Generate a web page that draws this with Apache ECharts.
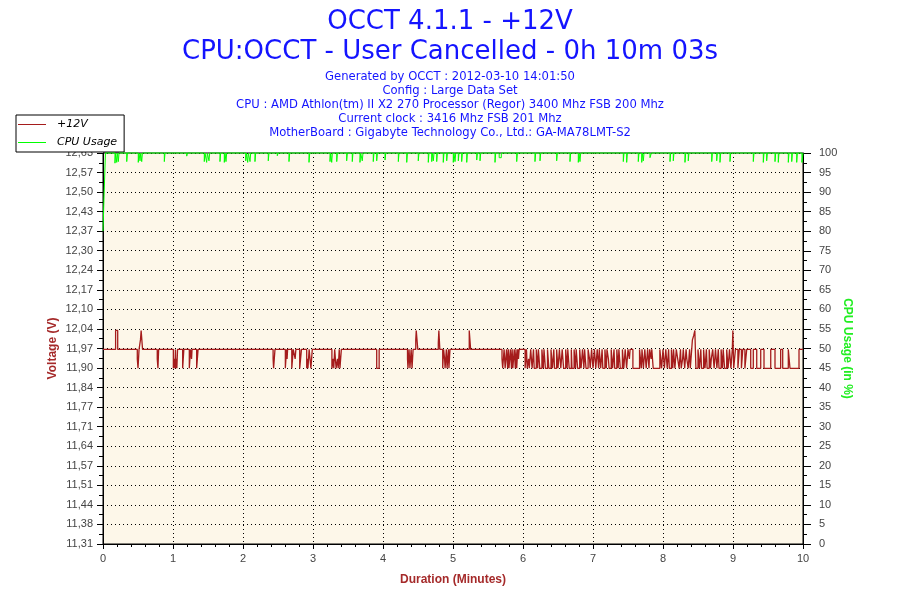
<!DOCTYPE html>
<html><head><meta charset="utf-8">
<script src="https://cdn.jsdelivr.net/npm/echarts@6/dist/echarts.min.js"></script>
<style>html,body{margin:0;padding:0;background:#fff}#c{width:900px;height:600px}</style>
</head><body><div id="c"></div>
<script>
const titleLines = ['OCCT 4.1.1 - +12V', 'CPU:OCCT - User Cancelled - 0h 10m 03s'];
const infoLines = [
  'Generated by OCCT : 2012-03-10 14:01:50',
  'Config : Large Data Set',
  'CPU : AMD Athlon(tm) II X2 270 Processor (Regor) 3400 Mhz FSB 200 Mhz',
  'Current clock : 3416 Mhz FSB 201 Mhz',
  'MotherBoard : Gigabyte Technology Co., Ltd.: GA-MA78LMT-S2'
];
const seriesNames = ['+12V', 'CPU Usage'];
const voltTickLabels = ['11,31','11,38','11,44','11,51','11,57','11,64','11,71','11,77','11,84','11,90','11,97','12,04','12,10','12,17','12,24','12,30','12,37','12,43','12,50','12,57','12,63'];
const voltAxisRange = [11.31, 12.632];
const voltAxisStep = 0.0661;
const cpuAxisRange = [0, 100];
const durationRange = [0, 10];

// +12V readings, [minute, volts] change points
const voltage = [
[0,11.968],[0.18,12.032],[0.21,11.968],[0.49,11.936],[0.5,11.904],[0.515,11.968],[0.535,12.0],[0.545,12.032],[0.565,11.968],[0.775,11.936],[0.785,11.904],[0.795,11.968],
[1.005,11.904],[1.02,11.936],[1.027,11.904],[1.035,11.968],[1.04,11.904],[1.05,11.936],[1.055,11.904],[1.065,11.968],[1.138,11.904],[1.155,11.968],[1.233,11.904],[1.25,11.968],[1.265,11.936],[1.272,11.968],[1.338,11.904],[1.358,11.968],
[2.43,11.936],[2.437,11.904],[2.457,11.968],[2.605,11.904],[2.622,11.968],[2.63,11.936],[2.637,11.968],[2.697,11.904],[2.718,11.968],[2.745,11.936],[2.755,11.968],[2.81,11.904],[2.835,11.968],[2.91,11.904],[2.92,11.936],[2.928,11.904],[2.945,11.968],[2.97,11.904],[2.99,11.968],
[3.27,11.904],[3.29,11.936],[3.297,11.904],[3.31,11.968],[3.33,11.904],[3.35,11.936],[3.36,11.904],[3.375,11.968],[3.385,11.904],[3.405,11.968],[3.91,11.904],[3.945,11.968],
[4.35,11.936],[4.357,11.904],[4.372,11.968],[4.385,11.904],[4.402,11.968],[4.415,11.904],[4.43,11.968],[4.468,12.0],[4.475,12.032],[4.497,11.968],[4.79,11.99],[4.798,12.032],[4.812,11.968],[4.853,11.904],[4.866,11.968],[4.88,11.936],[4.887,11.904],[4.905,11.968],[4.915,11.904],[4.935,11.968],[4.942,11.904],[4.957,11.968],
[5.232,12.032],[5.252,11.968],[5.7,11.936],[5.71,11.904],[5.73,11.968],[5.745,11.904],[5.765,11.968],[5.78,11.904],[5.79,11.968],[5.8,11.904],[5.82,11.968],[5.835,11.904],[5.845,11.968],[5.855,11.904],[5.875,11.968],[5.89,11.904],[5.9,11.968],[5.91,11.904],[5.925,11.968],[5.935,11.936],[5.945,11.968],
[6.03,11.904],[6.05,11.968],[6.06,11.904],[6.08,11.936],[6.09,11.904],[6.11,11.968],[6.13,11.904],[6.15,11.968],[6.16,11.904],[6.19,11.968],[6.21,11.904],[6.22,11.968],[6.24,11.904],[6.27,11.968],[6.29,11.904],[6.3,11.968],[6.32,11.904],[6.35,11.968],[6.36,11.936],[6.37,11.904],[6.4,11.968],[6.42,11.904],[6.44,11.968],[6.45,11.904],[6.48,11.968],[6.5,11.904],[6.52,11.968],[6.54,11.904],[6.55,11.936],[6.56,11.968],[6.58,11.904],[6.61,11.968],[6.63,11.904],[6.64,11.968],[6.66,11.904],[6.69,11.968],[6.7,11.904],[6.73,11.968],[6.75,11.904],[6.76,11.968],[6.78,11.904],[6.81,11.968],[6.83,11.904],[6.85,11.968],[6.87,11.904],[6.88,11.968],[6.9,11.904],[6.93,11.968],[6.95,11.936],[6.96,11.904],[6.98,11.968],
[7.0,11.904],[7.02,11.968],[7.04,11.904],[7.06,11.968],[7.08,11.904],[7.09,11.968],[7.11,11.904],[7.13,11.968],[7.14,11.904],[7.17,11.968],[7.19,11.904],[7.2,11.968],[7.22,11.936],[7.23,11.904],[7.26,11.968],[7.28,11.904],[7.3,11.968],[7.31,11.904],[7.34,11.968],[7.36,11.904],[7.37,11.968],[7.39,11.904],[7.42,11.968],[7.44,11.904],[7.46,11.968],[7.48,11.904],[7.5,11.968],[7.52,11.936],[7.53,11.968],[7.57,11.904],[7.665,11.968],[7.69,11.904],[7.7,11.968],[7.72,11.904],[7.74,11.968],[7.76,11.904],[7.78,11.968],[7.8,11.904],[7.81,11.968],[7.83,11.936],[7.84,11.968],[7.86,11.904],[7.955,11.968],[7.98,11.904],
[8.0,11.968],[8.02,11.904],[8.04,11.968],[8.06,11.904],[8.08,11.968],[8.09,11.904],[8.12,11.968],[8.14,11.904],[8.15,11.968],[8.17,11.904],[8.19,11.968],[8.21,11.936],[8.23,11.904],[8.25,11.968],[8.26,11.904],[8.28,11.936],[8.29,11.968],[8.31,11.904],[8.33,11.968],[8.34,11.936],[8.36,11.904],[8.38,11.968],[8.39,11.904],[8.41,11.968],[8.42,12.0],[8.44,12.016],[8.455,12.032],[8.47,11.904],[8.5,11.968],[8.52,11.904],[8.54,11.968],[8.55,11.904],[8.58,11.968],[8.6,11.904],[8.62,11.968],[8.63,11.904],[8.66,11.968],[8.68,11.904],[8.69,11.936],[8.71,11.968],[8.73,11.904],[8.75,11.968],[8.77,11.904],[8.79,11.968],[8.8,11.904],[8.83,11.968],[8.85,11.904],[8.86,11.968],[8.88,11.904],[8.91,11.968],[8.93,11.904],[8.95,11.968],[8.97,11.904],[8.99,11.968],
[8.998,12.032],[9.01,11.904],[9.035,11.968],[9.07,11.904],[9.09,11.968],[9.12,11.904],[9.14,11.968],[9.17,11.904],[9.196,11.968],[9.253,11.904],[9.29,11.968],[9.339,11.904],[9.396,11.968],[9.443,11.904],[9.539,11.968],[9.6,11.904],[9.681,11.968],[9.71,11.904],[9.79,11.968],[9.814,11.904],[9.943,11.968],[10,11.968]
];

// CPU usage, [minute, percent] change points
const cpuUsage = [
[0,80],[0.015,89],[0.035,100],
[0.171,97.4],[0.181,100],[0.196,97.6],[0.206,100],[0.219,97.8],[0.229,100],[0.339,97.8],[0.349,100],[0.504,97.6],[0.514,100],[0.529,98],[0.539,100],[0.553,97.8],[0.563,100],[0.876,97.8],[0.886,100],
[1.196,99.2],[1.206,100],[1.447,97.8],[1.457,100],[1.481,97.6],[1.491,100],[1.514,98],[1.524,100],[1.671,97.8],[1.681,100],[1.733,97.6],[1.743,100],[1.757,97.8],[1.767,100],
[2.039,98],[2.049,100],[2.067,97.6],[2.077,100],[2.1,97.8],[2.11,100],[2.171,97.8],[2.181,100],[2.361,98],[2.371,100],[2.49,99.3],[2.5,100],[2.657,97.8],[2.667,100],[2.943,97.6],[2.953,100],
[3.243,97.8],[3.253,100],[3.267,97.6],[3.277,100],[3.339,97.8],[3.349,100],[3.481,98],[3.491,100],[3.561,97.8],[3.571,100],[3.671,97.6],[3.681,100],[3.704,98],[3.714,100],[3.861,97.8],[3.871,100],[3.91,98],[3.92,100],
[4.029,98.2],[4.039,100],[4.219,97.8],[4.229,100],[4.339,97.6],[4.349,100],[4.504,98],[4.514,100],[4.647,97.6],[4.657,100],[4.696,97.8],[4.706,100],[4.719,98],[4.729,100],[4.767,97.8],[4.777,100],[4.861,97.6],[4.871,100],[4.91,98],[4.92,100],
[5.004,97.6],[5.014,100],[5.029,97.8],[5.039,100],[5.076,98],[5.086,100],[5.124,97.8],[5.134,100],[5.196,97.6],[5.206,100],[5.339,98.2],[5.349,100],[5.386,98],[5.396,100],[5.6,97.6],[5.61,100],[5.66,98.8],[5.69,100],[5.91,97.8],[5.92,100],
[6.171,97.8],[6.181,100],[6.243,98],[6.253,100],[6.481,98],[6.491,100],[6.671,97.8],[6.681,100],[6.79,97.6],[6.8,100],[6.814,97.8],[6.824,100],
[7.433,97.8],[7.443,100],[7.481,97.6],[7.491,100],[7.647,97.8],[7.657,100],[7.696,97.6],[7.706,100],[7.719,98],[7.729,100],[7.814,98.8],[7.834,100],
[8.1,97.8],[8.11,100],[8.147,98],[8.157,100],[8.314,97.6],[8.324,100],[8.361,98],[8.371,100],[8.696,97.8],[8.706,100],[8.767,98],[8.777,100],[8.814,97.6],[8.824,100],[8.957,97.8],[8.967,100],
[9.29,97.8],[9.3,100],[9.433,97.6],[9.443,100],[9.481,98],[9.491,100],[9.6,97.8],[9.61,100],[9.647,97.6],[9.657,100],[9.79,97.6],[9.8,100],[9.839,97.8],[9.849,100],[9.91,97.6],[9.92,100],[9.985,97.6],[10,100]
];

const blue = '#1414ff';
const dark = '#000';
const labelFont = 'Liberation Sans';
const chart = echarts.init(document.getElementById('c'), null, {renderer: 'canvas'});
const dotted = {color: dark, width: 1, type: [1, 3]};

chart.setOption({
  animation: false,
  backgroundColor: '#fff',
  title: [
    {text: titleLines.join('\n'), left: 'center', top: 7, padding: 0,
     textStyle: {fontFamily: 'DejaVu Sans', fontSize: 26, lineHeight: 30, fontWeight: 'normal', color: blue}},
    {text: infoLines.join('\n'), left: 'center', top: 70, padding: 0,
     textStyle: {fontFamily: 'DejaVu Sans', fontSize: 11.6, lineHeight: 14, fontWeight: 'normal', color: blue}}
  ],
  legend: {
    orient: 'vertical', left: 16, top: 115, itemWidth: 28, itemHeight: 1, itemGap: 7,
    padding: [4, 7, 4, 2], backgroundColor: '#fff', borderColor: dark, borderWidth: 1, borderRadius: 0,
    textStyle: {fontFamily: 'DejaVu Sans', fontStyle: 'italic', fontSize: 11, color: dark, padding: [0, 0, 0, 6]},
    data: seriesNames.map(n => ({name: n, icon: 'rect'}))
  },
  grid: {left: 103, right: 97, top: 153, bottom: 56, show: true, backgroundColor: '#fdf7e9', borderColor: dark, borderWidth: 1},
  xAxis: {
    type: 'value', min: durationRange[0], max: durationRange[1], interval: 1,
    name: 'Duration (Minutes)', nameLocation: 'middle', nameGap: 30, nameMoveOverlap: false,
    nameTextStyle: {color: '#a52a2a', fontWeight: 'bold', fontSize: 12, fontFamily: labelFont},
    axisLine: {show: true, onZero: false, lineStyle: {color: dark}},
    axisTick: {show: true, length: 5, lineStyle: {color: dark}},
    minorTick: {show: true, splitNumber: 5, length: 3, lineStyle: {color: dark}},
    axisLabel: {color: '#444', fontSize: 11, fontFamily: labelFont, margin: 9},
    splitLine: {show: true, lineStyle: dotted}
  },
  yAxis: [
    {
      type: 'value', position: 'left', min: voltAxisRange[0], max: voltAxisRange[1], interval: voltAxisStep,
      name: 'Voltage (V)', nameLocation: 'middle', nameGap: 44, nameRotate: 90, nameMoveOverlap: false,
      nameTextStyle: {color: '#a52a2a', fontWeight: 'bold', fontSize: 12, fontFamily: labelFont},
      axisLine: {show: true, lineStyle: {color: dark}},
      axisTick: {show: true, length: 6, lineStyle: {color: dark}},
      minorTick: {show: true, splitNumber: 2, length: 4, lineStyle: {color: dark}},
      axisLabel: {color: '#444', fontSize: 11, fontFamily: labelFont, margin: 10,
        formatter: v => voltTickLabels[Math.round((v - voltAxisRange[0]) / voltAxisStep)] || ''},
      splitLine: {show: true, lineStyle: dotted}
    },
    {
      type: 'value', position: 'right', min: cpuAxisRange[0], max: cpuAxisRange[1], interval: 5,
      name: 'CPU Usage (in %)', nameLocation: 'middle', nameGap: 38, nameRotate: -90, nameMoveOverlap: false,
      nameTextStyle: {color: '#22ee22', fontWeight: 'bold', fontSize: 12, fontFamily: labelFont},
      axisLine: {show: true, lineStyle: {color: dark}},
      axisTick: {show: true, length: 8, lineStyle: {color: dark}},
      minorTick: {show: true, splitNumber: 2, length: 4, lineStyle: {color: dark}},
      axisLabel: {color: '#444', fontSize: 11, fontFamily: labelFont, margin: 16},
      splitLine: {show: false}
    }
  ],
  series: [
    {name: seriesNames[0], type: 'line', yAxisIndex: 0, step: 'end', data: voltage,
     symbol: 'none', showSymbol: false, color: '#a51c1c', lineStyle: {color: '#a51c1c', width: 1.3}, z: 3},
    {name: seriesNames[1], type: 'line', yAxisIndex: 1, step: 'end', data: cpuUsage, clip: false,
     symbol: 'none', showSymbol: false, color: '#00ff00', lineStyle: {color: '#00ff00', width: 1}, z: 4}
  ]
});
</script></body></html>
